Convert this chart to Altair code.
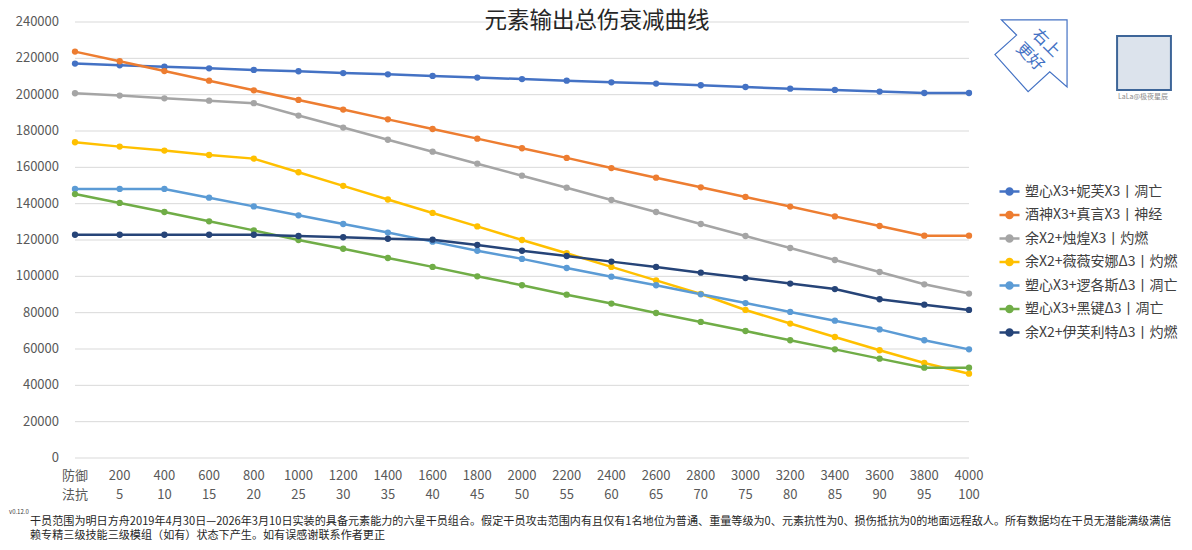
import altair as alt
import pandas as pd

# ---------------- data ----------------
defense_labels = ["防御", "200", "400", "600", "800", "1000", "1200", "1400", "1600", "1800", "2000",
                  "2200", "2400", "2600", "2800", "3000", "3200", "3400", "3600", "3800", "4000"]
resist_labels = ["法抗", "5", "10", "15", "20", "25", "30", "35", "40", "45", "50",
                 "55", "60", "65", "70", "75", "80", "85", "90", "95", "100"]
y_tick_values = [0, 20000, 40000, 60000, 80000, 100000, 120000, 140000, 160000, 180000,
                 200000, 220000, 240000]
y_tick_labels = ["0", "20000", "40000", "60000", "80000", "100000", "120000", "140000", "160000",
                 "180000", "200000", "220000", "240000"]

series_names = [
    "塑心X3+妮芙X3丨凋亡",
    "酒神X3+真言X3丨神经",
    "余X2+烛煌X3丨灼燃",
    "余X2+薇薇安娜Δ3丨灼燃",
    "塑心X3+逻各斯Δ3丨凋亡",
    "塑心X3+黑键Δ3丨凋亡",
    "余X2+伊芙利特Δ3丨灼燃",
]

s_nifu = [217100, 216200, 215400, 214500, 213600, 212900, 211900, 211200, 210300, 209400, 208600,
          207700, 206800, 206100, 205200, 204200, 203300, 202600, 201700, 200900, 200900]
s_jiushen = [223700, 218400, 213000, 207700, 202400, 197100, 191800, 186400, 181100, 175800, 170500,
             165200, 159600, 154300, 149000, 143700, 138400, 133000, 127700, 122400, 122400]
s_zhuhuang = [200800, 199500, 198000, 196700, 195300, 188500, 181900, 175200, 168600, 162000, 155400,
              148800, 142000, 135400, 128800, 122200, 115600, 109000, 102400, 95600, 90500]
s_weiwei = [173800, 171400, 169200, 166800, 164800, 157300, 149800, 142300, 134900, 127500, 120000,
            112700, 105200, 97800, 90300, 81500, 74000, 66600, 59300, 52300, 46400]
s_luoge = [148100, 148100, 148100, 143300, 138500, 133600, 128800, 124100, 119100, 114100, 109600,
           104600, 99800, 95100, 90100, 85300, 80400, 75600, 70800, 64800, 59800]
s_heijian = [145300, 140400, 135400, 130300, 125300, 120000, 115200, 110100, 105200, 100000, 95100,
             89900, 85000, 79800, 74900, 69900, 64800, 59800, 54700, 49700, 49700]
s_yifu = [122900, 122900, 122900, 122900, 122900, 122200, 121500, 120700, 120200, 117300, 114100,
          111200, 108100, 105200, 102000, 99100, 96000, 93000, 87400, 84400, 81500]

series_values = [s_nifu, s_jiushen, s_zhuhuang, s_weiwei, s_luoge, s_heijian, s_yifu]
colors = ["#4472C4", "#ED7D31", "#A5A5A5", "#FFC000", "#5B9BD5", "#70AD47", "#264478"]

title_text = "元素输出总伤衰减曲线"
note_line1 = ("干员范围为明日方舟2019年4月30日—2026年3月10日实装的具备元素能力的六星干员组合。"
              "假定干员攻击范围内有且仅有1名地位为普通、重量等级为0、元素抗性为0、损伤抵抗为0的地面远程敌人。"
              "所有数据均在干员无潜能满级满信")
note_line2 = "赖专精三级技能三级模组（如有）状态下产生。如有误感谢联系作者更正"

# ---------------- tables ----------------
rows = []
for name, vals in zip(series_names, series_values):
    for i, v in enumerate(vals):
        rows.append({"series": name, "idx": i, "value": v})
df = pd.DataFrame(rows)

xtick_df = pd.DataFrame({"idx": list(range(len(defense_labels))),
                         "def": defense_labels, "res": resist_labels})
ytick_df = pd.DataFrame({"value": y_tick_values, "label": y_tick_labels})

FONT = "Noto Sans CJK SC"
W, H = 894, 436

legend_path = "M-1,0L1,0M-0.3,0A0.3,0.3,0,1,1,0.3,0A0.3,0.3,0,1,1,-0.3,0Z"

color = alt.Color(
    "series:N",
    scale=alt.Scale(domain=series_names, range=colors),
    sort=series_names,
    legend=alt.Legend(
        title=None, orient="none", legendX=923, legendY=158,
        labelFontSize=14, labelFont=FONT, labelColor="#404040",
        symbolType=legend_path, symbolSize=400, symbolStrokeWidth=2.5,
        rowPadding=3.5, labelOffset=4, padding=0, labelLimit=300,
    ),
)

xscale = alt.Scale(domain=[0, 20], nice=False, zero=False)
yscale = alt.Scale(domain=[0, 240000], nice=False)
x_enc = alt.X("idx:Q", scale=xscale, axis=None)
y_enc = alt.Y("value:Q", scale=yscale, axis=None)

# horizontal gridlines at the y ticks
grid = alt.Chart(ytick_df).mark_rule(color="#d9d9d9", strokeWidth=1).encode(
    y=y_enc, x=alt.value(0), x2=alt.value(W))
ylabels = alt.Chart(ytick_df).mark_text(font=FONT, fontSize=13, color="#595959",
                                        align="right", baseline="middle").encode(
    y=y_enc, x=alt.value(-16), text="label:N")

lines = alt.Chart(df).mark_line(strokeWidth=2.5).encode(x=x_enc, y=y_enc, color=color)
points = alt.Chart(df).mark_point(filled=True, size=40, opacity=1).encode(x=x_enc, y=y_enc, color=color)

ticks_base = alt.Chart(xtick_df)
tick_row1 = ticks_base.mark_text(font=FONT, fontSize=13, color="#595959", baseline="middle").encode(
    x=x_enc, y=alt.value(H + 18), text="def:N")
tick_row2 = ticks_base.mark_text(font=FONT, fontSize=13, color="#595959", baseline="middle").encode(
    x=x_enc, y=alt.value(H + 37), text="res:N")

deco_df = pd.DataFrame({"k": [0]})
deco = alt.Chart(deco_df)

title = deco.mark_text(text=title_text, font=FONT, fontSize=22.5, color="#262626",
                       align="center", baseline="middle").encode(x=alt.value(522), y=alt.value(-1))
note1 = deco.mark_text(text=note_line1, font=FONT, fontSize=11.1, color="#262626",
                       align="left", baseline="middle").encode(x=alt.value(-45), y=alt.value(499.5))
note2 = deco.mark_text(text=note_line2, font=FONT, fontSize=11.1, color="#262626",
                       align="left", baseline="middle").encode(x=alt.value(-45), y=alt.value(513.5))
version = deco.mark_text(text="v0.12.0", font=FONT, fontSize=6, color="#404040",
                         align="left", baseline="middle").encode(x=alt.value(-66), y=alt.value(490))

arrow_path = "M1,-1L-0.82,-1L-0.4,-0.58L-1,-0.04L-0.08,0.99L0.52,0.44L1,0.86Z"
arrow = deco.mark_point(shape=arrow_path, size=5200, filled=False, stroke="#4472C4",
                        strokeWidth=1.2, opacity=1).encode(x=alt.value(956), y=alt.value(34))
arrow_t1 = deco.mark_text(text="右上", font=FONT, fontSize=16, color="#4472C4", angle=45,
                          align="center", baseline="middle").encode(x=alt.value(971), y=alt.value(21))
arrow_t2 = deco.mark_text(text="更好", font=FONT, fontSize=16, color="#4472C4", angle=45,
                          align="center", baseline="middle").encode(x=alt.value(955), y=alt.value(35))

qr_box = deco.mark_point(shape="square", size=2900, filled=True, fill="#3d6598", fillOpacity=0.18,
                         stroke="#3d6598", strokeWidth=2, opacity=1).encode(x=alt.value(1069), y=alt.value(41))
qr_mark = deco.mark_text(text="LaLa@极夜星辰", font=FONT, fontSize=7, color="#8a8a8a",
                         align="center", baseline="middle").encode(x=alt.value(1068), y=alt.value(75))

chart = alt.layer(grid, ylabels, lines, points, tick_row1, tick_row2, title, note1, note2, version,
                  arrow, arrow_t1, arrow_t2, qr_box, qr_mark).properties(
    width=W, height=H,
    autosize=alt.AutoSizeParams(type="none"),
    padding={"left": 67, "top": 14, "right": 210, "bottom": 84},
    background="white",
).configure_view(strokeWidth=0)

chart.save("out.html", embed_options={"renderer": "svg", "actions": False})
